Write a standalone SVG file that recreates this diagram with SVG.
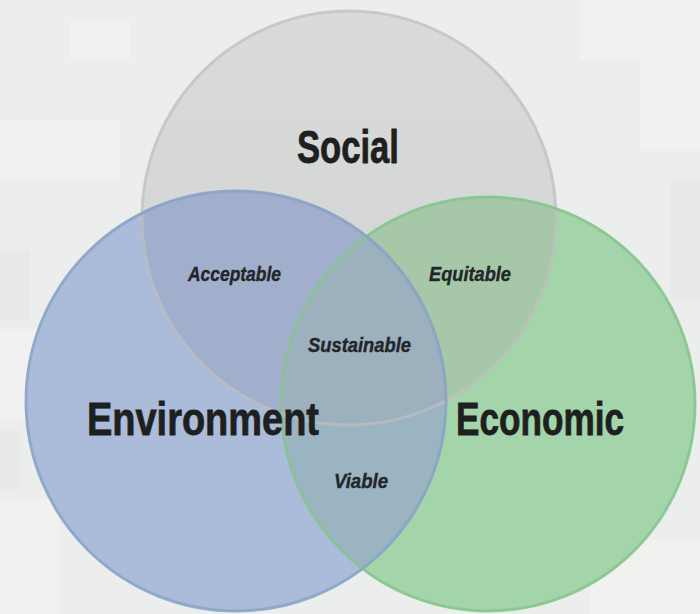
<svg xmlns="http://www.w3.org/2000/svg" width="700" height="614" viewBox="0 0 700 614">
  <style>
    .lbl { font-family: "Liberation Sans", Arial, sans-serif; font-weight: bold; fill: #1e1f1f; stroke: #1e1f1f; }
    .big { font-size: 46px; stroke-width: 0.8; }
    .small { font-size: 21px; font-style: italic; fill: #22262a; stroke: #22262a; stroke-width: 0.4; }
    .edge { fill: none; stroke-width: 3; }
  </style>
  <defs>
    <clipPath id="cSocial"><circle cx="349" cy="218" r="208"/></clipPath>
    <clipPath id="cEnv"><circle cx="236" cy="401" r="211"/></clipPath>
    <clipPath id="cEcon"><circle cx="488" cy="404" r="208"/></clipPath>
    <linearGradient id="gSocial" x1="0" y1="0" x2="0" y2="1">
      <stop offset="0" stop-color="#d9dada"/>
      <stop offset="1" stop-color="#d2d3d3"/>
    </linearGradient>
  </defs>

  <!-- background -->
  <rect x="0" y="0" width="700" height="614" fill="#eceeed"/>
  <g fill="#f1f2f0">
    <rect x="580" y="0" width="120" height="60"/>
    <rect x="640" y="60" width="60" height="90"/>
    <rect x="0" y="120" width="120" height="60"/>
    <rect x="0" y="330" width="40" height="90"/>
    <rect x="0" y="500" width="60" height="114"/>
    <rect x="590" y="540" width="110" height="74"/>
    <rect x="70" y="20" width="60" height="40"/>
  </g>
  <g fill="#e8eaea">
    <rect x="0" y="250" width="30" height="70"/>
    <rect x="670" y="180" width="30" height="120"/>
    <rect x="0" y="430" width="20" height="60"/>
  </g>

  <!-- nodes -->
  <g id="social">
    <circle cx="349" cy="218" r="208" fill="url(#gSocial)"/>
  </g>
  <g id="environment">
    <circle cx="236" cy="401" r="211" fill="#aabcd9"/>
  </g>
  <g id="economic">
    <circle cx="488" cy="404" r="208" fill="#a4d5aa"/>
  </g>

  <!-- overlap regions -->
  <g id="overlaps">
    <g clip-path="url(#cSocial)">
      <circle cx="236" cy="401" r="211" fill="#a2afcc"/>
      <circle cx="488" cy="404" r="208" fill="#a7c8a8"/>
    </g>
    <g clip-path="url(#cEnv)">
      <circle cx="488" cy="404" r="208" fill="#9ab4c2"/>
    </g>
    <g clip-path="url(#cSocial)">
      <g clip-path="url(#cEnv)">
        <circle cx="488" cy="404" r="208" fill="#9cb0be"/>
      </g>
    </g>
  </g>

  <!-- outlines -->
  <g id="outlines">
    <circle class="edge" cx="349" cy="218" r="207" stroke="#bfc1c1" stroke-opacity="0.7"/>
    <circle class="edge" cx="488" cy="404" r="207" stroke="#86c48f" stroke-opacity="0.8"/>
    <circle class="edge" cx="236" cy="401" r="210" stroke="#8aa2c6" stroke-opacity="0.8"/>
  </g>

  <!-- labels -->
  <g id="labels">
    <text class="lbl big" x="297" y="163" textLength="102" lengthAdjust="spacingAndGlyphs">Social</text>
    <text class="lbl big" x="87" y="435" textLength="232" lengthAdjust="spacingAndGlyphs">Environment</text>
    <text class="lbl big" x="456" y="435" textLength="168" lengthAdjust="spacingAndGlyphs">Economic</text>
    <text class="lbl small" x="188" y="281" textLength="93" lengthAdjust="spacingAndGlyphs">Acceptable</text>
    <text class="lbl small" x="429" y="281" textLength="82" lengthAdjust="spacingAndGlyphs">Equitable</text>
    <text class="lbl small" x="308" y="352" textLength="103" lengthAdjust="spacingAndGlyphs">Sustainable</text>
    <text class="lbl small" x="334" y="488" textLength="54" lengthAdjust="spacingAndGlyphs">Viable</text>
  </g>
</svg>
